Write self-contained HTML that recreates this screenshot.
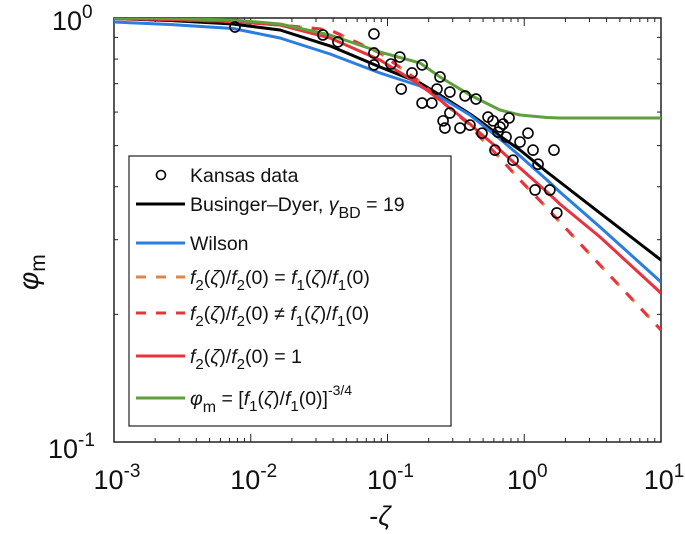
<!DOCTYPE html>
<html><head><meta charset="utf-8"><style>
body{margin:0;background:#fff}
svg{display:block;font-family:"Liberation Sans",sans-serif}
</style></head><body>
<svg id="chart" width="685" height="534" xmlns="http://www.w3.org/2000/svg"></svg>
<script>
const zeta=[0.001,0.00257,0.00741,0.01637,0.038,0.0882,0.173,0.242,0.401,0.474,0.665,0.931,1.466,1.824,3.58,10];
const phiBD=[0.9973,0.9865,0.9679,0.9369,0.8592,0.7663,0.7026,0.6582,0.5937,0.5715,0.5268,0.4883,0.4334,0.4104,0.3467,0.2687];
const phiWilson=[0.9785,0.9653,0.9446,0.897,0.8225,0.7418,0.6913,0.6511,0.5904,0.5653,0.5183,0.4726,0.4149,0.3887,0.3214,0.2384];
const phiRedSolid=[0.9973,0.9919,0.9812,0.9627,0.897,0.7962,0.695,0.6405,0.5623,0.5355,0.4883,0.4429,0.3887,0.3641,0.3044,0.2245];
const phiDashed=[0.9973,0.9919,0.9812,0.9627,0.9369,0.827,0.7065,0.6405,0.5592,0.5239,0.4675,0.4149,0.3563,0.3303,0.2615,0.1837];
const phiGreen=[1.0,0.9973,0.9892,0.9679,0.9119,0.8313,0.7834,0.7259,0.6582,0.6405,0.6067,0.5904,0.5825,0.5809,0.5809,0.5809];
const kansasZeta=[0.0796,0.0434,0.0337,0.00767,0.0796,0.0796,0.106,0.123,0.151,0.179,0.126,0.242,0.23,0.286,0.369,0.444,0.179,0.211,0.286,0.255,0.263,0.339,0.401,0.491,0.543,0.591,0.665,0.7,0.774,0.643,0.736,0.931,1.065,0.611,0.828,1.159,1.262,1.65,1.2,1.54,1.73];
const kansasPhi=[0.917,0.878,0.912,0.952,0.827,0.775,0.779,0.809,0.742,0.775,0.68,0.726,0.68,0.669,0.655,0.644,0.63,0.63,0.597,0.572,0.55,0.55,0.559,0.535,0.584,0.572,0.553,0.562,0.581,0.538,0.524,0.51,0.535,0.488,0.462,0.488,0.452,0.488,0.393,0.393,0.347];
const xTickExp=[-3,-2,-1,0,1];
const yTickExp=[-1,0];

const L=114,R=661,T=18,B=442;
const X=v=>L+(Math.log10(v)+3)/4*(R-L);
const Y=v=>T+(-Math.log10(v))*(B-T);
const svg=document.getElementById('chart');
const NS='http://www.w3.org/2000/svg';
function mk(tag,attrs,parent){const e=document.createElementNS(NS,tag);for(const k in attrs)e.setAttribute(k,attrs[k]);(parent||svg).appendChild(e);return e;}

const box=mk('rect',{x:L,y:T,width:R-L,height:B-T,fill:'none',stroke:'#222','stroke-width':1.5});


const tg=mk('g',{stroke:'#222','stroke-width':1});


for(let d=-3;d<1;d++){for(let m=1;m<10;m++){const v=m*Math.pow(10,d);const x=X(v);const len=m===1?8:4;
 mk('line',{x1:x,y1:B,x2:x,y2:B-len},tg);mk('line',{x1:x,y1:T,x2:x,y2:T+len},tg);}}
for(let m=1;m<10;m++){const y=Y(m/10);const len=m===1?8:4;
 mk('line',{x1:L,y1:y,x2:L+len,y2:y},tg);mk('line',{x1:R,y1:y,x2:R-len,y2:y},tg);}
xTickExp.forEach(e=>{const t=mk('text',{x:X(Math.pow(10,e))+3,y:489,'font-size':27,'text-anchor':'middle',fill:'#111'});
 
 
 t.innerHTML='10<tspan dy="-12" font-size="19">'+e+'</tspan>';});
yTickExp.forEach(e=>{const t=mk('text',{x:e===0?52:48,y:Y(Math.pow(10,e))+(e===0?12:16),'font-size':27,'text-anchor':'start',fill:'#111'});
 
 
 t.innerHTML='10<tspan dy="-12" font-size="19">'+e+'</tspan>';});
const xl=mk('text',{x:380,y:525,'font-size':27,'text-anchor':'middle',fill:'#111'});


xl.innerHTML='-<tspan font-style="italic">ζ</tspan>';
const yl=mk('text',{x:0,y:0,'font-size':28,fill:'#111',transform:'translate(38,290) rotate(-90)'});


yl.innerHTML='<tspan font-style="italic">φ</tspan><tspan dy="7" font-size="21">m</tspan>';

function path(arr){return zeta.map((z,i)=>(i?'L':'M')+X(z).toFixed(1)+','+Y(arr[i]).toFixed(1)).join(' ');}
const clip=mk('clipPath',{id:'cp'});mk('rect',{x:L,y:T,width:R-L,height:B-T},clip);
const series=[
 ['line-businger-dyer',phiBD,'#000',''],
 ['line-wilson',phiWilson,'#2a7de1',''],
 ['line-f2-eq-f1',phiDashed,'#e0854a','12 10'],
 ['line-f2-neq-f1',phiDashed,'#e8323c','10 12'],
 ['line-f2-eq-1',phiRedSolid,'#e8323c',''],
 ['line-phi-green',phiGreen,'#5fa03c','']];
series.forEach(s=>{const p=mk('path',{d:path(s[1]),fill:'none',stroke:s[2],'stroke-width':3,'stroke-dasharray':s[3],'clip-path':'url(#cp)','stroke-linejoin':'round'});
 
 });
kansasZeta.forEach((z,i)=>{const c=mk('circle',{cx:X(z),cy:Y(kansasPhi[i]),r:5,fill:'none',stroke:'#000','stroke-width':1.6});
 
 });

const lg=mk('g',{});


mk('rect',{x:129,y:156,width:322,height:270,fill:'#fff',stroke:'#222','stroke-width':1.2},lg);
const entries=[
 [175,'marker','','Kansas data'],
 [204,'#000','','Businger–Dyer, <tspan font-style="italic">γ</tspan><tspan dy="7" font-size="16">BD</tspan><tspan dy="-7"> = 19</tspan>'],
 [243,'#2a7de1','','Wilson'],
 [277,'#e0854a','10 10','<tspan font-style="italic">f</tspan><tspan dy="6" font-size="15">2</tspan><tspan dy="-6">(</tspan><tspan font-style="italic">ζ</tspan>)/<tspan font-style="italic">f</tspan><tspan dy="6" font-size="15">2</tspan><tspan dy="-6">(0) = </tspan><tspan font-style="italic">f</tspan><tspan dy="6" font-size="15">1</tspan><tspan dy="-6">(</tspan><tspan font-style="italic">ζ</tspan>)/<tspan font-style="italic">f</tspan><tspan dy="6" font-size="15">1</tspan><tspan dy="-6">(0)</tspan>'],
 [313,'#e8323c','10 10','<tspan font-style="italic">f</tspan><tspan dy="6" font-size="15">2</tspan><tspan dy="-6">(</tspan><tspan font-style="italic">ζ</tspan>)/<tspan font-style="italic">f</tspan><tspan dy="6" font-size="15">2</tspan><tspan dy="-6">(0) ≠ </tspan><tspan font-style="italic">f</tspan><tspan dy="6" font-size="15">1</tspan><tspan dy="-6">(</tspan><tspan font-style="italic">ζ</tspan>)/<tspan font-style="italic">f</tspan><tspan dy="6" font-size="15">1</tspan><tspan dy="-6">(0)</tspan>'],
 [356,'#e8323c','','<tspan font-style="italic">f</tspan><tspan dy="6" font-size="15">2</tspan><tspan dy="-6">(</tspan><tspan font-style="italic">ζ</tspan>)/<tspan font-style="italic">f</tspan><tspan dy="6" font-size="15">2</tspan><tspan dy="-6">(0) = 1</tspan>'],
 [398,'#5fa03c','','<tspan font-style="italic">φ</tspan><tspan dy="7" font-size="16">m</tspan><tspan dy="-7"> = [</tspan><tspan font-style="italic">f</tspan><tspan dy="6" font-size="15">1</tspan><tspan dy="-6">(</tspan><tspan font-style="italic">ζ</tspan>)/<tspan font-style="italic">f</tspan><tspan dy="6" font-size="15">1</tspan><tspan dy="-6">(0)]</tspan><tspan dy="-10" font-size="14">-3/4</tspan>']];
entries.forEach(e=>{
 if(e[1]==='marker'){const c=mk('circle',{cx:161,cy:e[0],r:4.5,fill:'none',stroke:'#000','stroke-width':1.6},lg);
  
  }
 else{const l=mk('line',{x1:136,y1:e[0],x2:185,y2:e[0],stroke:e[1],'stroke-width':3,'stroke-dasharray':e[2]},lg);
  
  }
 const t=mk('text',{x:190,y:e[0]+7,'font-size':19.5,fill:'#111'},lg);
 
 
 t.innerHTML=e[3];});
</script>
</body></html>
